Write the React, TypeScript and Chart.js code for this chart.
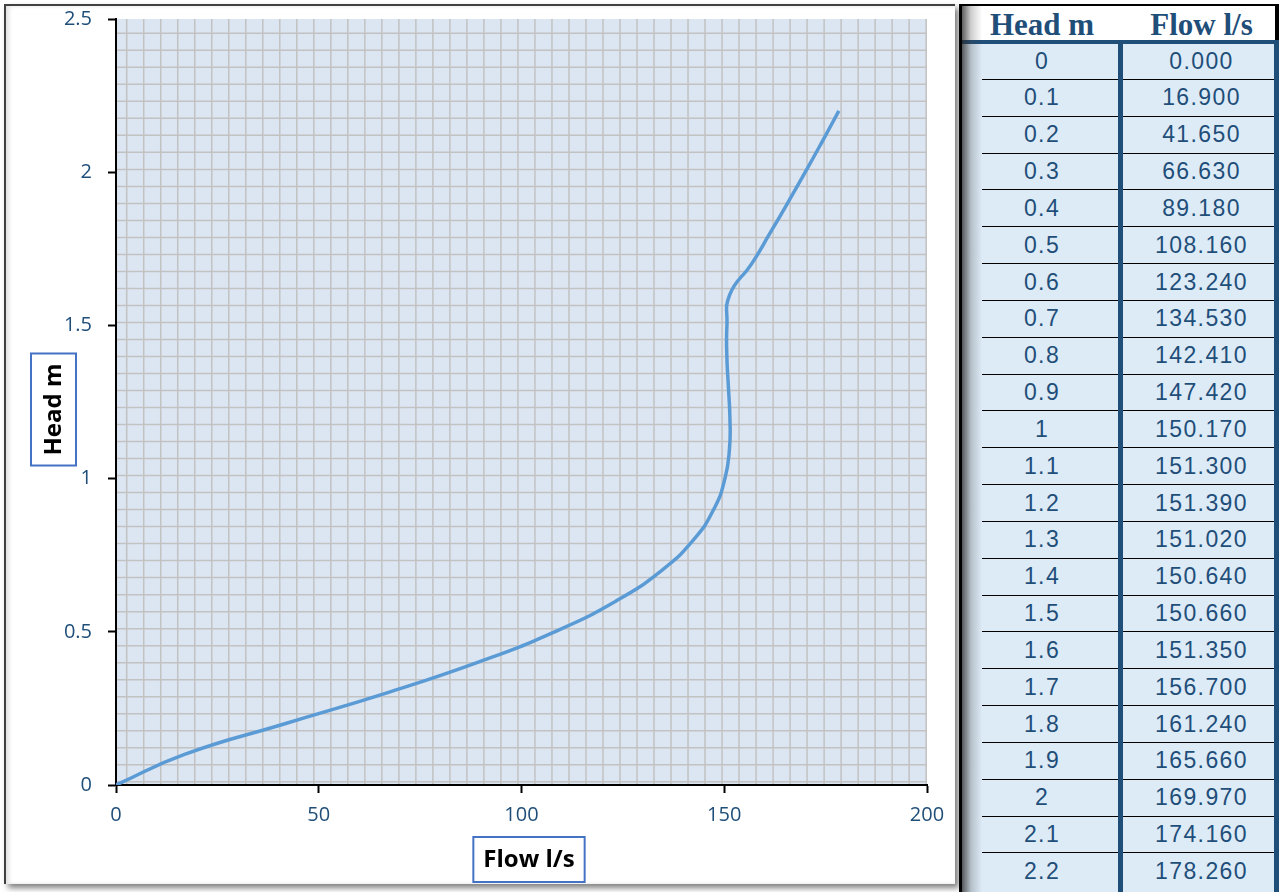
import React, { useEffect, useRef } from "react";
import { Chart, registerables } from "chart.js";

Chart.register(...registerables);

// ---- data ----
const headM: number[] = [0, 0.1, 0.2, 0.3, 0.4, 0.5, 0.6, 0.7, 0.8, 0.9, 1, 1.1, 1.2, 1.3, 1.4, 1.5, 1.6, 1.7, 1.8, 1.9, 2, 2.1, 2.2];
const flowLs: number[] = [0, 16.9, 41.65, 66.63, 89.18, 108.16, 123.24, 134.53, 142.41, 147.42, 150.17, 151.3, 151.39, 151.02, 150.64, 150.66, 151.35, 156.7, 161.24, 165.66, 169.97, 174.16, 178.26];
const xTickValues: number[] = [0, 50, 100, 150, 200];
const yTickValues: number[] = [0, 0.5, 1, 1.5, 2, 2.5];
const X_TITLE = "Flow l/s";
const Y_TITLE = "Head m";
const TABLE_HEADERS: string[] = ["Head m", "Flow l/s"];

const DARK_BLUE = "#1F4E79";
const TICK_FONT = "'Open Sans', 'Noto Sans', sans-serif";

const gridPattern = {
  id: "gridPattern",
  beforeDraw(chart: any, _args: any, opts: any) {
    const { ctx, chartArea: a } = chart;
    ctx.save();
    ctx.fillStyle = opts.fill;
    ctx.fillRect(a.left, a.top, a.right - a.left, a.bottom - a.top);
    ctx.beginPath();
    ctx.rect(a.left, a.top, a.right - a.left, a.bottom - a.top);
    ctx.clip();
    ctx.strokeStyle = opts.line;
    ctx.lineWidth = opts.width;
    ctx.beginPath();
    for (let x = a.left + opts.offsetX; x < a.right; x += opts.step) {
      ctx.moveTo(x, a.top);
      ctx.lineTo(x, a.bottom);
    }
    for (let y = a.top + opts.offsetY; y < a.bottom; y += opts.step) {
      ctx.moveTo(a.left, y);
      ctx.lineTo(a.right, y);
    }
    ctx.stroke();
    ctx.restore();
  },
};

const boxedTitles = {
  id: "boxedTitles",
  afterDraw(chart: any, _args: any, opts: any) {
    const { ctx, chartArea: a } = chart;
    ctx.save();
    ctx.font = `bold ${opts.size}px ${opts.family}`;
    ctx.textAlign = "center";
    ctx.textBaseline = "middle";
    ctx.lineWidth = opts.boxWidth;
    // x title
    {
      const cx = (a.left + a.right) / 2 + opts.xShift;
      const cy = a.bottom + opts.xDrop;
      const w = ctx.measureText(opts.xText).width + 2 * opts.padAlong;
      const h = opts.across;
      ctx.fillStyle = "#ffffff";
      ctx.fillRect(cx - w / 2, cy - h / 2, w, h);
      ctx.strokeStyle = opts.boxColor;
      ctx.strokeRect(cx - w / 2, cy - h / 2, w, h);
      ctx.fillStyle = opts.color;
      ctx.fillText(opts.xText, cx, cy + 1);
    }
    // y title
    {
      const cx = a.left - opts.yLeft;
      const cy = (a.top + a.bottom) / 2 + opts.yShift;
      ctx.translate(cx, cy);
      ctx.rotate(-Math.PI / 2);
      const w = ctx.measureText(opts.yText).width + 2 * opts.padAlong;
      const h = opts.across;
      ctx.fillStyle = "#ffffff";
      ctx.fillRect(-w / 2, -h / 2, w, h);
      ctx.strokeStyle = opts.boxColor;
      ctx.strokeRect(-w / 2, -h / 2, w, h);
      ctx.fillStyle = opts.color;
      ctx.fillText(opts.yText, 0, 1);
    }
    ctx.restore();
  },
};

function HeadFlowChart() {
  const ref = useRef<HTMLCanvasElement | null>(null);
  useEffect(() => {
    if (!ref.current) return;
    const points = flowLs.map((f, i) => ({ x: f, y: headM[i] }));
    const zeroPad = (s: any) => {
      s.paddingTop = 0;
      s.paddingBottom = 0;
      s.paddingLeft = 0;
      s.paddingRight = 0;
    };
    const chart = new Chart(ref.current, {
      type: "scatter",
      data: {
        datasets: [
          {
            label: "Head vs Flow",
            data: points,
            showLine: true,
            borderColor: "#5B9BD5",
            backgroundColor: "#5B9BD5",
            borderWidth: 3.5,
            pointRadius: 0,
            pointHoverRadius: 0,
            tension: 0.5,
            fill: false,
          },
        ],
      },
      options: {
        responsive: false,
        animation: false,
        devicePixelRatio: 1,
        layout: { padding: { top: 14, right: 28, left: 0, bottom: 0 } },
        plugins: {
          legend: { display: false },
          tooltip: { enabled: false },
          gridPattern: {
            fill: "#DCE6F2",
            line: "#C2C2C2",
            width: 1.5,
            step: 17.01,
            offsetX: 10.7,
            offsetY: 14.3,
          },
          boxedTitles: {
            xText: X_TITLE,
            yText: Y_TITLE,
            size: 24,
            family: TICK_FONT,
            color: "#000000",
            boxColor: "#4472C4",
            boxWidth: 2,
            padAlong: 10,
            across: 45,
            xShift: 7.5,
            xDrop: 74.5,
            yLeft: 62.5,
            yShift: 7.5,
          },
        } as any,
        scales: {
          x: {
            type: "linear",
            min: xTickValues[0],
            max: xTickValues[xTickValues.length - 1],
            afterBuildTicks: (s: any) => {
              s.ticks = xTickValues.map((v) => ({ value: v }));
            },
            afterFit: (s: any) => {
              s.height = 99;
              zeroPad(s);
            },
            ticks: {
              color: DARK_BLUE,
              font: { family: TICK_FONT, size: 20 },
              padding: 10,
              maxRotation: 0,
              callback: (v: any) => String(v),
            },
            grid: {
              display: true,
              drawOnChartArea: false,
              drawTicks: true,
              tickLength: 8,
              tickColor: "#000000",
              tickWidth: 2,
            },
            border: { display: true, color: "#000000", width: 2 },
            title: { display: false },
          },
          y: {
            type: "linear",
            min: yTickValues[0],
            max: yTickValues[yTickValues.length - 1],
            afterBuildTicks: (s: any) => {
              s.ticks = yTickValues.map((v) => ({ value: v }));
            },
            afterFit: (s: any) => {
              s.width = 110;
              zeroPad(s);
            },
            ticks: {
              color: DARK_BLUE,
              font: { family: TICK_FONT, size: 20 },
              padding: 16,
              callback: (v: any) => String(v),
            },
            grid: {
              display: true,
              drawOnChartArea: false,
              drawTicks: true,
              tickLength: 8,
              tickColor: "#000000",
              tickWidth: 2,
            },
            border: { display: true, color: "#000000", width: 2 },
            title: { display: false },
          },
        },
      },
      plugins: [gridPattern, boxedTitles],
    } as any);
    return () => chart.destroy();
  }, []);
  return (
    <canvas
      ref={ref}
      width={949}
      height={879}
      style={{ position: "absolute", left: 6, top: 5, width: 949, height: 879 }}
    />
  );
}

function DataTable() {
  const rowTop = 42.5;
  const rowH = 36.84;
  const rows = headM.map((h, i) => ({ head: String(h), flow: flowLs[i].toFixed(3) }));
  const cellText = {
    position: "absolute" as const,
    height: rowH,
    lineHeight: rowH + "px",
    textAlign: "center" as const,
    fontFamily: "'Liberation Sans', Arial, sans-serif",
    fontSize: 23,
    letterSpacing: "1.4px",
    color: DARK_BLUE,
  };
  return (
    <>
      {/* header */}
      <div style={{ position: "absolute", left: 960, top: 4, width: 319, height: 2, background: "#000" }} />
      <div style={{ position: "absolute", left: 962, top: 6, width: 313, height: 34, background: "#fff" }} />
      <div style={{ position: "absolute", left: 1275, top: 4, width: 4, height: 40, background: "#000" }} />
      {/* body bg */}
      <div style={{ position: "absolute", left: 962, top: 44, width: 317, height: 848, background: "#DDEBF7" }} />
      {/* row lines */}
      {rows.slice(0, rows.length - 1).map((_, i) => {
        const y = Math.round(rowTop + rowH * (i + 1) - 0.5);
        return (
          <React.Fragment key={"l" + i}>
            <div style={{ position: "absolute", left: 982, top: y, width: 136, height: 1, background: "#000" }} />
            <div style={{ position: "absolute", left: 1123, top: y, width: 151, height: 1, background: "#000" }} />
          </React.Fragment>
        );
      })}
      {/* column divider and right border */}
      <div style={{ position: "absolute", left: 1118, top: 44, width: 5, height: 848, background: DARK_BLUE }} />
      <div style={{ position: "absolute", left: 1274, top: 44, width: 5, height: 848, background: DARK_BLUE }} />
      {/* thick header line */}
      <div style={{ position: "absolute", left: 962, top: 40, width: 317, height: 4, background: DARK_BLUE }} />
      {/* left shadow */}
      <div
        style={{
          position: "absolute",
          left: 962,
          top: 6,
          width: 20,
          height: 886,
          background: "linear-gradient(to right, rgba(40,40,40,0.75), rgba(60,60,60,0.25) 45%, rgba(0,0,0,0))",
        }}
      />
      {/* header text */}
      {TABLE_HEADERS.map((t, i) => (
        <div
          key={t}
          style={{
            position: "absolute",
            left: i === 0 ? 962 : 1125,
            top: 7,
            width: i === 0 ? 160 : 153,
            height: 36,
            lineHeight: "36px",
            textAlign: "center",
            fontFamily: "'Liberation Serif', 'Times New Roman', serif",
            fontWeight: "bold",
            fontSize: 31,
            color: DARK_BLUE,
            whiteSpace: "nowrap",
          }}
        >
          {t}
        </div>
      ))}
      {/* body text */}
      {rows.map((r, i) => (
        <React.Fragment key={"r" + i}>
          <div style={{ ...cellText, left: 963, top: rowTop + rowH * i, width: 158 }}>{r.head}</div>
          <div style={{ ...cellText, left: 1126, top: rowTop + rowH * i, width: 151 }}>{r.flow}</div>
        </React.Fragment>
      ))}
    </>
  );
}

export default function App() {
  return (
    <div
      style={{
        position: "fixed",
        left: 0,
        top: 0,
        width: 1279,
        height: 892,
        background: "#ffffff",
        overflow: "hidden",
      }}
    >
      {/* chart frame */}
      <div
        style={{
          position: "absolute",
          left: 4,
          top: 4,
          width: 951,
          height: 880,
          boxSizing: "border-box",
          borderLeft: "2px solid #404040",
          borderTop: "2px solid #404040",
          background: "#ffffff",
          boxShadow: "4px 4px 6px rgba(0,0,0,0.5), inset 3px 0 4px rgba(0,0,0,0.12)",
        }}
      />
      <HeadFlowChart />
      {/* black separator */}
      <div style={{ position: "absolute", left: 959, top: 4, width: 3, height: 888, background: "#000" }} />
      <DataTable />
    </div>
  );
}
